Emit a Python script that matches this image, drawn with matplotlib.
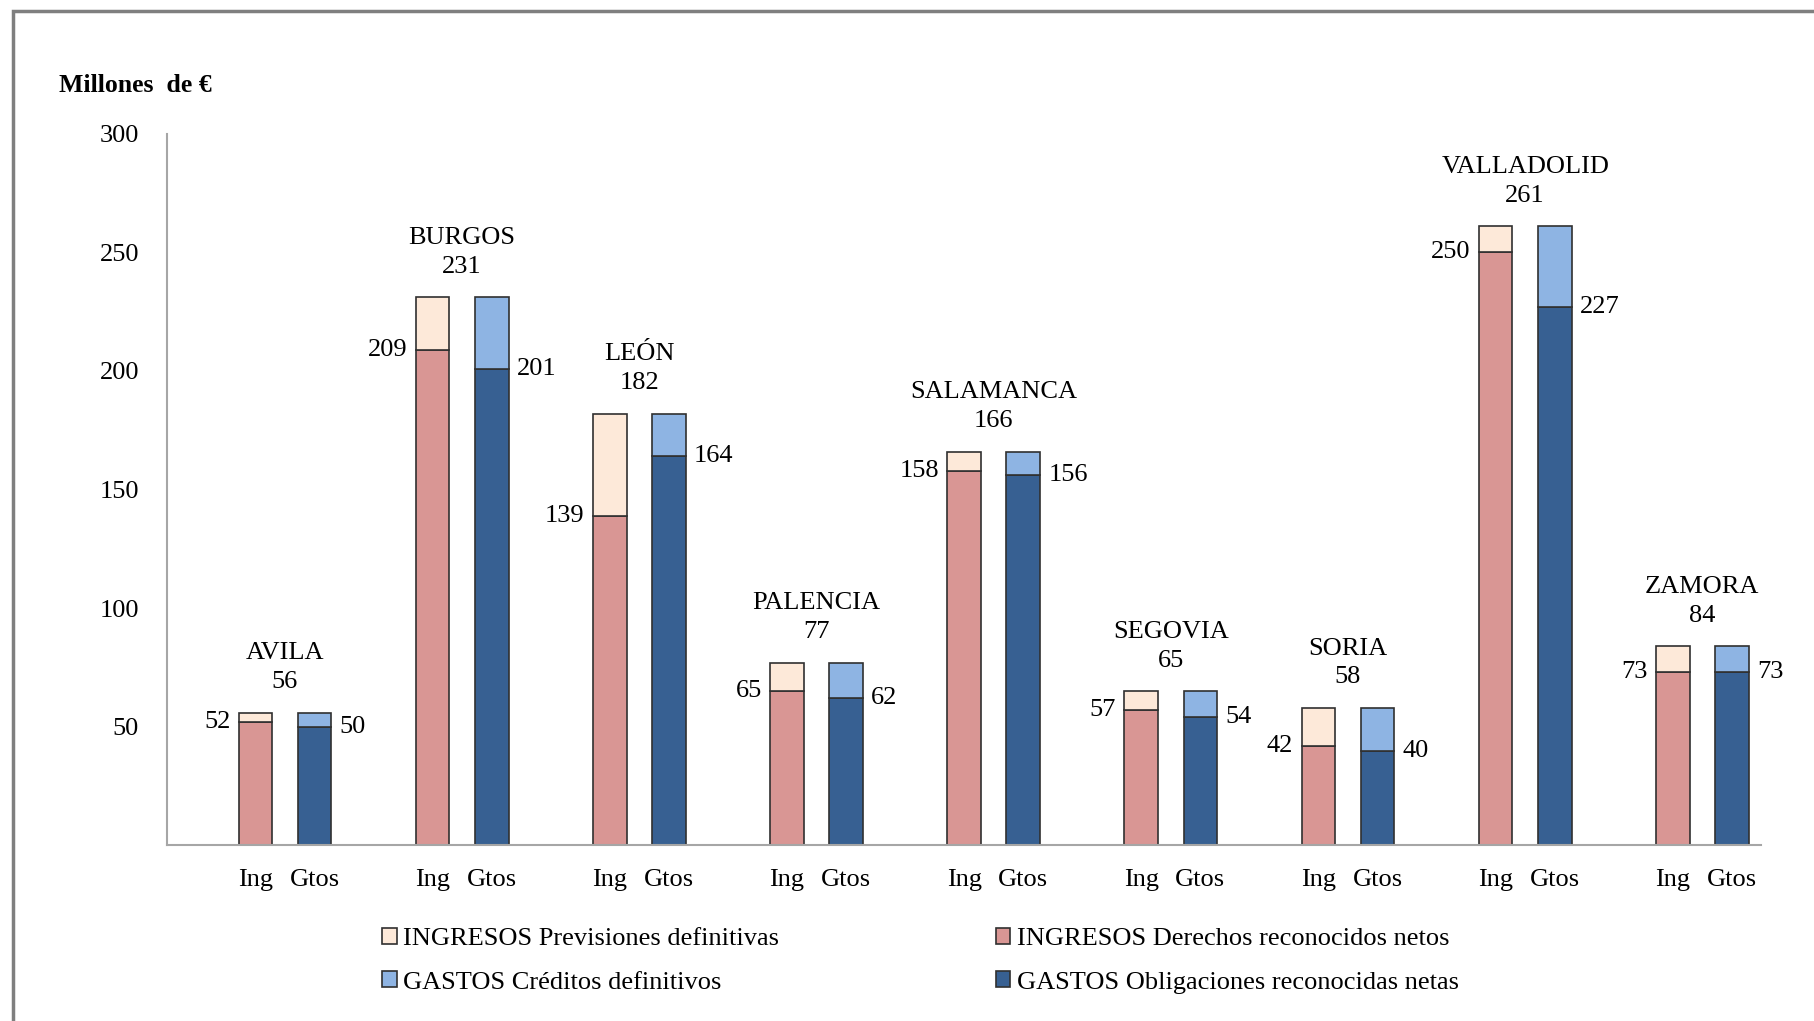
import matplotlib.pyplot as plt
from matplotlib.patches import Rectangle

plt.rcParams['font.family'] = ['Liberation Serif', 'DejaVu Serif']

provincias = ['AVILA', 'BURGOS', 'LEÓN', 'PALENCIA', 'SALAMANCA',
              'SEGOVIA', 'SORIA', 'VALLADOLID', 'ZAMORA']
previsiones = [56, 231, 182, 77, 166, 65, 58, 261, 84]
derechos = [52, 209, 139, 65, 158, 57, 42, 250, 73]
creditos = [56, 231, 182, 77, 166, 65, 58, 261, 84]
obligaciones = [50, 201, 164, 62, 156, 54, 40, 227, 73]
ticks_y = [50, 100, 150, 200, 250, 300]

c_prev = '#FDE9D9'
c_der = '#D99694'
c_cred = '#8EB4E3'
c_obl = '#376092'
edge = '#303030'

fig = plt.figure(figsize=(18.14, 10.21), dpi=100)
ax = fig.add_axes([0.092, 0.172, 0.879, 0.697])

n = len(provincias)
x_ing = [3 * i + 1 for i in range(n)]
x_gto = [3 * i + 2 for i in range(n)]
w = 0.57

resto_ing = [p - d for p, d in zip(previsiones, derechos)]
resto_gto = [c - o for c, o in zip(creditos, obligaciones)]

b1 = ax.bar(x_ing, derechos, w, color=c_der, edgecolor=edge, linewidth=1.2)
b2 = ax.bar(x_ing, resto_ing, w, bottom=derechos, color=c_prev, edgecolor=edge, linewidth=1.2)
b3 = ax.bar(x_gto, obligaciones, w, color=c_obl, edgecolor=edge, linewidth=1.2)
b4 = ax.bar(x_gto, resto_gto, w, bottom=obligaciones, color=c_cred, edgecolor=edge, linewidth=1.2)

fs = 19
for i in range(n):
    ax.annotate(str(derechos[i]), (x_ing[i] - w / 2, derechos[i]),
                xytext=(-6, 0), textcoords='offset points',
                ha='right', va='center', fontsize=fs)
    ax.annotate(str(obligaciones[i]), (x_gto[i] + w / 2, obligaciones[i]),
                xytext=(6, 0), textcoords='offset points',
                ha='left', va='center', fontsize=fs)
    ax.annotate(provincias[i] + '\n' + str(previsiones[i]),
                (x_ing[i] + 0.5, previsiones[i]),
                xytext=(0, 14), textcoords='offset points',
                ha='center', va='bottom', fontsize=fs, linespacing=1.4)

ax.set_xlim(-0.5, 3 * n - 0.5)
ax.set_ylim(0, 300)
ax.set_yticks(ticks_y)
ax.set_yticklabels([str(t) for t in ticks_y], fontsize=fs)
ax.set_xticks(x_ing + x_gto)
ax.set_xticklabels(['Ing'] * n + ['Gtos'] * n, fontsize=fs)
ax.tick_params(axis='both', length=0)
ax.tick_params(axis='y', pad=20)
ax.tick_params(axis='x', pad=17)

for s in ['top', 'right']:
    ax.spines[s].set_visible(False)
for s in ['left', 'bottom']:
    ax.spines[s].set_color('#a6a6a6')
    ax.spines[s].set_linewidth(1.5)

fig.text(59 / 1814, 1 - 86 / 1021, 'Millones  de €', fontsize=18.5,
         fontweight='bold', va='center', ha='left')

fig.legend([b2, b4, b1, b3],
           ['INGRESOS Previsiones definitivas', 'GASTOS Créditos definitivos',
            'INGRESOS Derechos reconocidos netos', 'GASTOS Obligaciones reconocidas netas'],
           ncol=2, loc='upper left', bbox_to_anchor=(382 / 1814, 1 - 928 / 1021),
           frameon=False, fontsize=fs, handlelength=0.55, handleheight=0.55,
           handletextpad=0.25, columnspacing=8.2, labelspacing=0.8,
           borderpad=0, borderaxespad=0)

fig.patches.append(Rectangle((13 / 1814, -0.1), 1.2, 1.1 - 11 / 1021,
                             transform=fig.transFigure, fill=False,
                             edgecolor='#7f7f7f', linewidth=2.5))

fig.savefig('out.png', dpi=100)
